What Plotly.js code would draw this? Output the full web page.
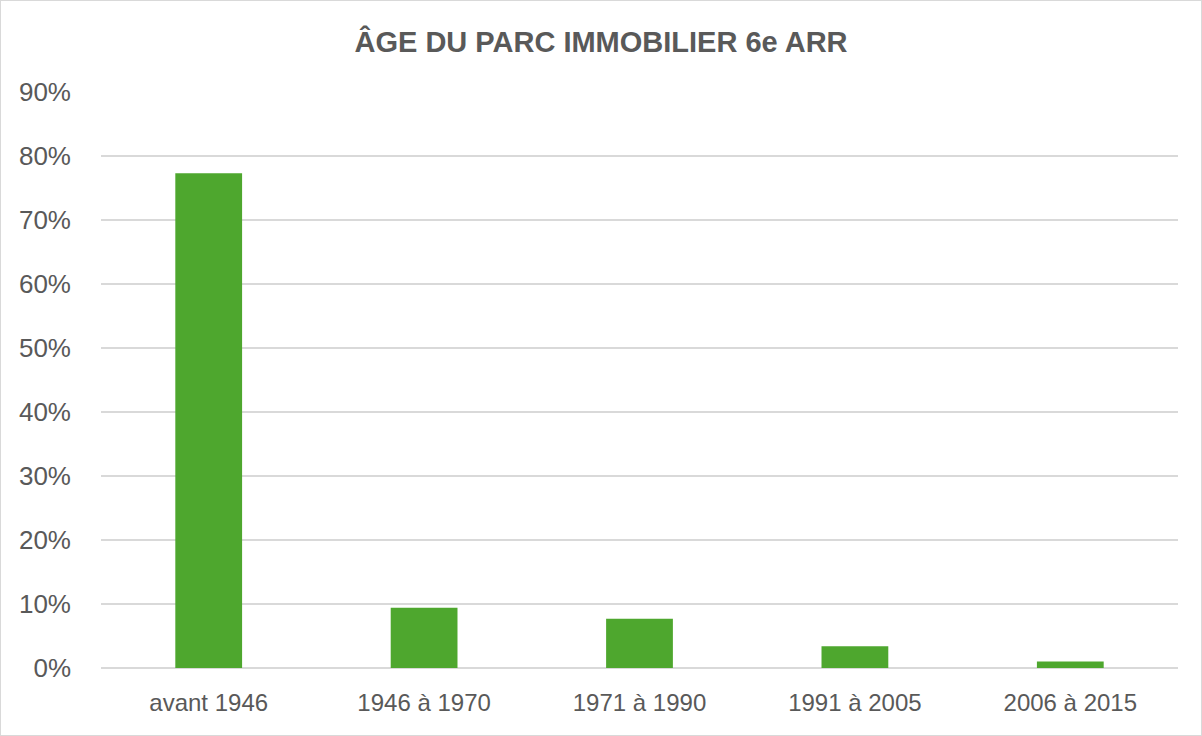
<!DOCTYPE html>
<html><head><meta charset="utf-8">
<script src="https://cdn.plot.ly/plotly-3.0.1.min.js"></script>
<style>html,body{margin:0;padding:0;background:#fff}#chart{width:1200px;height:734px;border:1px solid #d9d9d9}</style>
</head><body><div id="chart"></div>
<script>
var categories = ["avant 1946", "1946 à 1970", "1971 à 1990", "1991 à 2005", "2006 à 2015"];
var values = [0.773, 0.094, 0.077, 0.034, 0.010];
var yTicks = [0, 0.1, 0.2, 0.3, 0.4, 0.5, 0.6, 0.7, 0.8, 0.9];

var trace = {type: "bar", x: categories, y: values, marker: {color: "#4EA72E"}, hoverinfo: "x+y"};
var layout = {
  width: 1200, height: 734,
  margin: {l: 100, r: 23, t: 91, b: 67},
  paper_bgcolor: "#fff", plot_bgcolor: "#fff",
  bargap: 0.69,
  showlegend: false,
  title: {text: "ÂGE DU PARC IMMOBILIER 6e ARR", x: 0.5, xanchor: "center", y: 1 - 41/734, yanchor: "middle", yref: "container",
    font: {family: "Liberation Sans, Arial", size: 29, color: "#595959", weight: "bold"}},
  xaxis: {tickfont: {family: "Liberation Sans, Arial", size: 24, color: "#595959"}, ticks: "", showline: false, ticklabelstandoff: 18},
  yaxis: {range: [0, 0.9], tickvals: yTicks, tickformat: ".0%", tickfont: {family: "Liberation Sans, Arial", size: 26, color: "#595959"},
    gridcolor: "#d9d9d9", gridwidth: 1.5, zeroline: true, zerolinecolor: "#d9d9d9", zerolinewidth: 1.5, ticks: "", ticklabelstandoff: 29, showline: false}
};
Plotly.newPlot("chart", [trace], layout, {displayModeBar: false, staticPlot: true});
</script></body></html>
